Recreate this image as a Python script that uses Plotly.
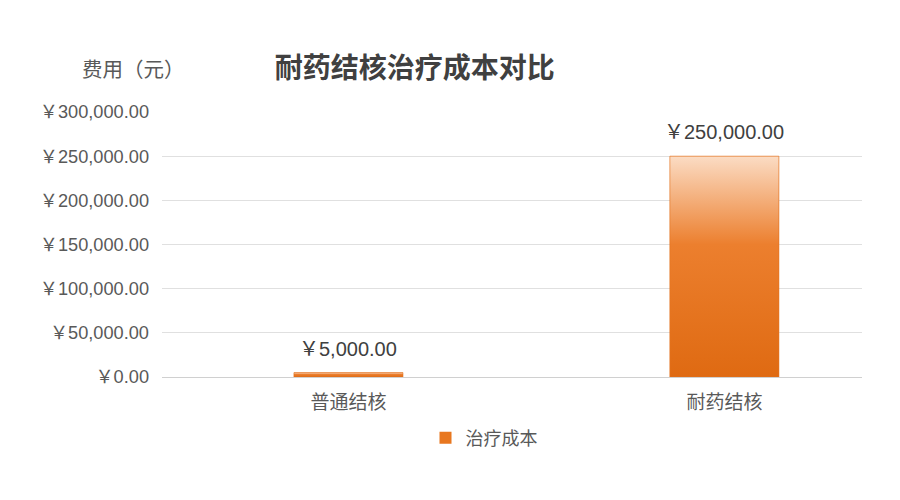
import plotly.graph_objects as go

# Data
categories = ['普通结核', '耐药结核']
costs = [5000, 250000]
y_ticks = [0, 50000, 100000, 150000, 200000, 250000, 300000]
y_tick_text = ['￥{:,.2f}'.format(v) for v in y_ticks]

font_mix = 'Liberation Sans, Arial, Noto Sans CJK SC'
font_cn = 'Noto Sans CJK SC'
bar_width = 0.29
x_pos = list(range(len(categories)))

fig = go.Figure()

# base bar (legend)
fig.add_trace(go.Bar(
    x=x_pos, y=costs, width=bar_width, name='治疗成本',
    marker=dict(color='#e8771f', line=dict(width=0)),
    hovertemplate='%{y:,.2f}<extra></extra>',
))

# gradient overlay for each bar
for xi, v in zip(x_pos, costs):
    x0, x1 = xi - bar_width / 2, xi + bar_width / 2
    fig.add_trace(go.Scatter(
        x=[x0, x1, x1, x0, x0], y=[0, 0, v, v, 0],
        mode='lines', fill='toself', line=dict(width=0.6, color='#e37322'),
        fillgradient=dict(type='vertical',
                          colorscale=[[0, '#df6a12'], [0.6, '#ec7f2e'], [1, '#fbdcc4']]),
        showlegend=False, hoverinfo='skip',
    ))

# value labels
labels = [dict(x=xi, y=v, text='￥{:,.2f}'.format(v), showarrow=False,
               xanchor='center', yanchor='middle', yshift=24,
               font=dict(size=20, color='#404040', family=font_mix))
          for xi, v in zip(x_pos, costs)]

labels.append(dict(text='费用（元）', xref='paper', yref='paper', x=-0.041, y=1.166,
                   xanchor='center', yanchor='middle', showarrow=False,
                   font=dict(size=20.5, color='#595959', family=font_cn)))

fig.update_layout(
    width=900, height=500,
    paper_bgcolor='white', plot_bgcolor='white',
    margin=dict(l=154, r=46, t=104, b=131),
    font=dict(family=font_mix, color='#595959'),
    title=dict(text='<b>耐药结核治疗成本对比</b>', x=0.452, xanchor='center',
               y=0.88, yanchor='middle', font=dict(size=28, color='#404040', family=font_cn)),
    showlegend=True,
    legend=dict(orientation='h', x=0.46, xanchor='center', y=-0.23, yanchor='middle',
                itemwidth=30, font=dict(size=18, color='#595959', family=font_cn)),
    annotations=labels,
)

fig.update_xaxes(
    range=[-0.496, 1.366], tickvals=x_pos, ticktext=categories,
    showgrid=False, showline=True, linecolor='#d0d0d0', linewidth=1,
    ticks='', ticklabelstandoff=8,
    tickfont=dict(size=19, color='#595959', family=font_cn), zeroline=False,
)
fig.update_yaxes(
    range=[0, 300000], tickvals=y_ticks, ticktext=y_tick_text,
    showgrid=True, gridcolor='#e0e0e0', gridwidth=1, zeroline=False,
    showline=False, ticks='', ticklabelstandoff=12,
    tickfont=dict(size=18.2, color='#595959'),
)

fig.write_html('out.html')
